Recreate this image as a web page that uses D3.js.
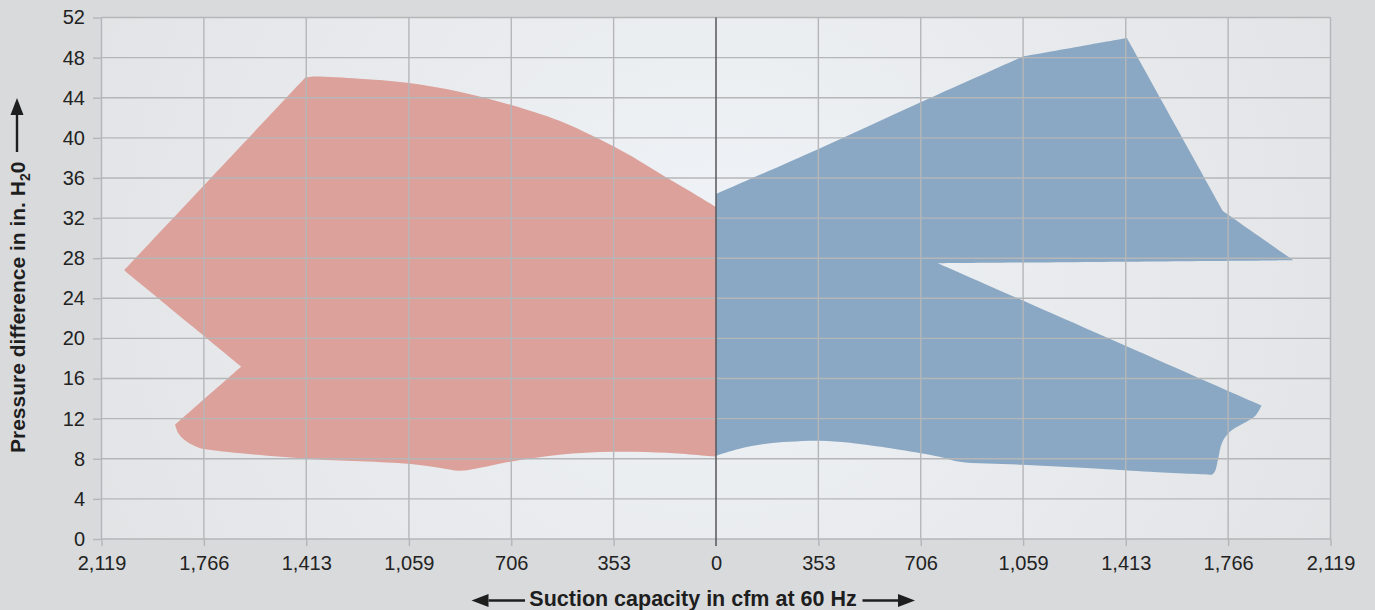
<!DOCTYPE html>
<html>
<head>
<meta charset="utf-8">
<script src="https://cdn.jsdelivr.net/npm/d3@7"></script>
<style>
  html, body { margin: 0; padding: 0; background: #d9dadc; }
  svg { display: block; font-family: "Liberation Sans", Arial, sans-serif; }
</style>
</head>
<body>
<svg id="chart" width="1375" height="610"></svg>
<script>
// ---- data -------------------------------------------------------------------
const xTickValues = [-2119, -1766, -1413, -1059, -706, -353, 0, 353, 706, 1059, 1413, 1766, 2119];
const yTickValues = [0, 4, 8, 12, 16, 20, 24, 28, 32, 36, 40, 44, 48, 52];

// 50 Hz side (left, read as positive cfm, drawn mirrored)
const leftCapacity = [0, 91, 174, 264, 357, 426, 540, 709, 885, 1065, 1231, 1396, 1417,
  2041, 1637, 1865, 1855, 1834, 1783, 1748, 1413, 1061, 955, 885, 830, 709, 540, 357, 171, 0];
const leftPressure = [33.1, 34.7, 36.1, 37.7, 39.2, 40.2, 41.7, 43.3, 44.6, 45.5, 45.9, 46.1, 46.0,
  26.8, 17.2, 11.4, 10.6, 9.9, 9.1, 8.9, 8.0, 7.5, 7.1, 6.8, 7.0, 7.7, 8.4, 8.7, 8.6, 8.2];
const leftCorners = [0, 12, 13, 14, 15, 29];

// 60 Hz side (right)
const rightCapacity = [0, 346, 702, 1058, 1417, 1748, 1990, 765, 1881, 1860, 1772, 1745, 1731,
  1720, 1710, 1496, 1323, 1058, 840, 771, 633, 461, 357, 253, 174, 81, 0];
const rightPressure = [34.4, 38.8, 43.5, 48.1, 49.95, 32.7, 27.8, 27.5, 13.3, 12.3, 10.7, 9.6, 7.9,
  6.7, 6.4, 6.7, 7.0, 7.4, 7.7, 8.2, 8.9, 9.6, 9.8, 9.7, 9.5, 9.0, 8.3];
const rightCorners = [0, 3, 4, 5, 6, 7, 8, 14, 26];

// ---- layout -----------------------------------------------------------------
const svg = d3.select('#chart');
const L = 101.5, R = 1330.5, T = 17.5, B = 539;

const x = d3.scaleLinear().domain([-2119, 2119]).range([L, R]);
const y = d3.scaleLinear().domain([0, 52]).range([B, T]);

// plot background gradient
const defs = svg.append('defs');
const grad = defs.append('radialGradient').attr('id', 'plotBg')
  .attr('gradientUnits', 'userSpaceOnUse')
  .attr('cx', 716).attr('cy', 260).attr('r', 700);
grad.append('stop').attr('offset', '0%').attr('stop-color', '#eff3f7');
grad.append('stop').attr('offset', '100%').attr('stop-color', '#e2e3e5');

svg.append('rect').attr('x', L).attr('y', T).attr('width', R - L).attr('height', B - T)
  .attr('fill', 'url(#plotBg)');

// ---- areas ------------------------------------------------------------------
// corner points are doubled so the centripetal spline keeps them sharp
function outline(cap, pres, corners, sign) {
  const pts = [];
  cap.forEach((c, i) => {
    pts.push([sign * c, pres[i]]);
    if (corners.includes(i)) pts.push([sign * c, pres[i]]);
  });
  return pts;
}
const line = d3.line().x(d => x(d[0])).y(d => y(d[1]))
  .curve(d3.curveCatmullRomClosed.alpha(0.5));

svg.append('path')
  .datum(outline(leftCapacity, leftPressure, leftCorners, -1))
  .attr('d', line).attr('fill', '#dca19b');

svg.append('path')
  .datum(outline(rightCapacity, rightPressure, rightCorners, 1))
  .attr('d', line).attr('fill', '#8aa8c3');

// ---- grid (drawn over the fills) ---------------------------------------------
const grid = svg.append('g').attr('stroke', '#b5b6b8').attr('stroke-width', 1.4);
grid.selectAll('line.h').data(yTickValues).join('line').attr('class', 'h')
  .attr('x1', L).attr('x2', R).attr('y1', d => y(d)).attr('y2', d => y(d));
grid.selectAll('line.v').data(xTickValues.filter(d => d !== 0)).join('line').attr('class', 'v')
  .attr('y1', T).attr('y2', B).attr('x1', d => x(d)).attr('x2', d => x(d));

// centre line
svg.append('line').attr('x1', x(0)).attr('x2', x(0)).attr('y1', T).attr('y2', B + 7)
  .attr('stroke', '#555658').attr('stroke-width', 1.5);

// ---- axes -------------------------------------------------------------------
const fmt = d3.format(',');
const xAxis = svg.append('g').attr('transform', `translate(0,${B})`)
  .call(d3.axisBottom(x).tickValues(xTickValues).tickSize(7).tickPadding(10)
    .tickFormat(d => fmt(Math.abs(d))));
const yAxis = svg.append('g').attr('transform', `translate(${L},0)`)
  .call(d3.axisLeft(y).tickValues(yTickValues).tickSize(8.5).tickPadding(8));

[xAxis, yAxis].forEach(a => {
  a.select('.domain').remove();
  a.selectAll('.tick line').attr('stroke', '#b5b6b8').attr('stroke-width', 1.4);
  a.selectAll('.tick text').attr('fill', '#222').style('font-size', '20px')
    .style('font-family', '"Liberation Sans", Arial, sans-serif');
});
xAxis.selectAll('.tick').filter(d => d === 0).select('line').attr('stroke', 'none');

// ---- axis titles ------------------------------------------------------------
svg.append('text').attr('x', 693).attr('y', 606).attr('text-anchor', 'middle')
  .attr('font-weight', 'bold').attr('font-size', 21.5).attr('fill', '#1e1e1e')
  .text('Suction capacity in cfm at 60 Hz');

function arrow(g, x1, y1, x2, y2) {
  const ang = Math.atan2(y2 - y1, x2 - x1), hl = 17, hw = 6.5;
  const bx = x2 - hl * Math.cos(ang), by = y2 - hl * Math.sin(ang);
  g.append('line').attr('x1', x1).attr('y1', y1).attr('x2', bx).attr('y2', by)
    .attr('stroke', '#1e1e1e').attr('stroke-width', 2.4);
  g.append('path').attr('fill', '#1e1e1e')
    .attr('d', `M${x2},${y2}L${bx - hw * Math.sin(ang)},${by + hw * Math.cos(ang)}` +
               `L${bx + hw * Math.sin(ang)},${by - hw * Math.cos(ang)}Z`);
}
const arrows = svg.append('g');
arrow(arrows, 525, 600.5, 471.5, 600.5);
arrow(arrows, 862.5, 600.5, 915, 600.5);
arrow(arrows, 17, 152, 17, 98);

const yTitle = svg.append('text')
  .attr('transform', 'translate(24.5,453) rotate(-90)')
  .attr('font-weight', 'bold').attr('font-size', 21).attr('fill', '#1e1e1e');
yTitle.append('tspan').text('Pressure difference in in. H');
yTitle.append('tspan').attr('font-size', 14).attr('dy', 5).text('2');
yTitle.append('tspan').attr('dy', -5).text('0');
</script>
</body>
</html>
